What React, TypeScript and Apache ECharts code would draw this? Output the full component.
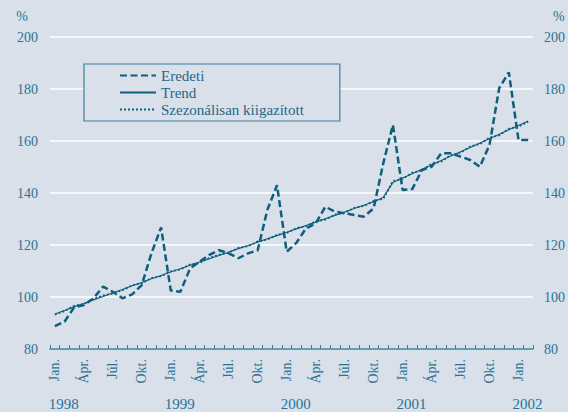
import React, { useEffect, useRef } from "react";
import * as echarts from "echarts";

const monthNames = ["Jan.", "Febr.", "Márc.", "Ápr.", "Máj.", "Jún.", "Júl.", "Aug.", "Szept.", "Okt.", "Nov.", "Dec."];
const years = [1998, 1999, 2000, 2001, 2002];
const monthCount = 50; // Jan 1998 – Feb 2002

const categories: string[] = [];
const yearOfCategory: string[] = [];
for (let i = 0; i < monthCount; i++) {
  categories.push(monthNames[i % 12]);
  yearOfCategory.push(String(years[Math.floor(i / 12)]));
}

const eredeti = [
  88.8, 90.5, 96.0, 96.9, 99.5, 104.0, 102.0, 99.5, 101.0, 104.6, 116.8, 126.8,
  102.5, 102.0, 111.0, 113.6, 116.2, 118.0, 116.8, 114.9, 116.8, 118.0, 133.5, 143.0,
  117.4, 120.8, 126.4, 128.3, 134.7, 132.8, 132.2, 131.5, 130.9, 134.1, 151.4, 166.2,
  141.2, 141.5, 148.8, 150.1, 155.3, 155.3, 154.0, 152.7, 150.1, 158.5, 180.3, 186.4,
  160.4, 160.4,
];

const trend = [
  93.5, 94.8, 96.2, 97.5, 98.9, 100.2, 101.6, 102.9, 104.3, 105.6, 107.0, 108.3,
  109.6, 110.9, 112.2, 113.5, 114.7, 116.0, 117.3, 118.6, 119.8, 121.1, 122.4, 123.6,
  124.9, 126.2, 127.5, 128.8, 130.1, 131.4, 132.7, 134.0, 135.3, 136.6, 138.3, 144.0,
  145.8, 147.4, 149.1, 150.8, 152.5, 154.2, 155.9, 157.5, 159.2, 160.9, 162.6, 164.3,
  166.0, 167.7,
];

const szezonalisan = [
  93.2, 94.6, 96.6, 97.3, 99.2, 100.6, 101.3, 102.6, 104.5, 105.3, 107.3, 108.0,
  109.9, 110.6, 112.5, 113.2, 115.0, 116.3, 117.0, 118.9, 119.5, 121.4, 122.1, 123.9,
  124.6, 126.5, 127.2, 129.1, 129.8, 131.7, 132.4, 134.3, 135.0, 136.9, 137.8, 144.6,
  145.4, 147.8, 148.7, 151.2, 152.1, 154.6, 155.5, 157.9, 158.8, 161.3, 162.2, 164.7,
  165.6, 167.4,
];

const yTicks = { min: 80, max: 200, interval: 20 };

const lineColor = "#0d5f7c";
const textColor = "#2a7394";
const bg = "#d9e0ea";
const serif = "'Liberation Serif', 'Times New Roman', serif";

export default function App() {
  const ref = useRef<HTMLDivElement>(null);

  useEffect(() => {
    document.body.style.margin = "0";
    const chart = echarts.init(ref.current!, null, { renderer: "svg" });
    const option: any = {
      animation: false,
      backgroundColor: bg,
      textStyle: { fontFamily: serif },
      grid: { left: 50, right: 33, top: 37, bottom: 63, containLabel: false },
      legend: {
        left: 84,
        top: 64,
        orient: "vertical",
        backgroundColor: bg,
        borderColor: "#3a7f9c",
        borderWidth: 1.2,
        borderRadius: 0,
        padding: [4, 36, 4, 35],
        itemGap: 2,
        itemWidth: 36,
        itemHeight: 14,
        itemStyle: { color: "rgba(0,0,0,0)", borderWidth: 0, opacity: 0 },
        textStyle: { fontFamily: serif, fontSize: 15, color: "#1f6785" },
        data: ["Eredeti", "Trend", "Szezonálisan kiigazított"],
      },
      xAxis: [
        {
          type: "category",
          data: categories,
          boundaryGap: true,
          axisLine: { show: true, lineStyle: { color: "#3a7f9c", width: 1.5 } },
          axisTick: { show: true, inside: true, length: 4, interval: 0, lineStyle: { color: "#3a7f9c", width: 1 } },
          axisLabel: {
            interval: 2,
            rotate: 90,
            margin: 10,
            fontFamily: serif,
            fontSize: 14,
            color: textColor,
          },
          splitLine: { show: false },
        },
        {
          type: "category",
          data: yearOfCategory,
          position: "bottom",
          boundaryGap: true,
          axisLine: { show: false },
          axisTick: { show: false },
          axisLabel: {
            interval: (index: number) => index % 12 === 0,
            margin: 47,
            fontFamily: serif,
            fontSize: 15,
            color: textColor,
            padding: [0, 0, 0, 18],
          },
          splitLine: { show: false },
        },
      ],
      yAxis: [
        {
          type: "value",
          min: yTicks.min,
          max: yTicks.max,
          interval: yTicks.interval,
          position: "left",
          name: "%",
          nameLocation: "end",
          nameGap: 14,
          nameTextStyle: { fontFamily: serif, fontSize: 14, color: textColor, align: "right", padding: [0, 22, 0, 0] },
          axisLine: { show: false },
          axisTick: { show: false },
          axisLabel: { margin: 12, fontFamily: serif, fontSize: 14, color: textColor },
          splitLine: { show: true, lineStyle: { color: "#ffffff", width: 1.5 } },
        },
        {
          type: "value",
          min: yTicks.min,
          max: yTicks.max,
          interval: yTicks.interval,
          position: "right",
          name: "%",
          nameLocation: "end",
          nameGap: 14,
          nameTextStyle: { fontFamily: serif, fontSize: 14, color: textColor, align: "left", padding: [0, 0, 0, 20] },
          axisLine: { show: false },
          axisTick: { show: false },
          axisLabel: { margin: 11, fontFamily: serif, fontSize: 14, color: textColor },
          splitLine: { show: false },
        },
      ],
      series: [
        {
          name: "Trend",
          type: "line",
          data: trend,
          symbol: "none",
          lineStyle: { color: lineColor, width: 1.1, type: "solid" },
          itemStyle: { color: lineColor },
        },
        {
          name: "Szezonálisan kiigazított",
          type: "line",
          data: szezonalisan,
          symbol: "none",
          lineStyle: { color: lineColor, width: 1.8, type: [2, 2] },
          itemStyle: { color: lineColor },
        },
        {
          name: "Eredeti",
          type: "line",
          data: eredeti,
          symbol: "none",
          lineStyle: { color: lineColor, width: 2.5, type: [7, 3.5] },
          itemStyle: { color: lineColor },
        },
      ],
    };
    chart.setOption(option);
    return () => chart.dispose();
  }, []);

  return (
    <div
      ref={ref}
      style={{ position: "fixed", left: 0, top: 0, width: 568, height: 412, background: bg }}
    />
  );
}
